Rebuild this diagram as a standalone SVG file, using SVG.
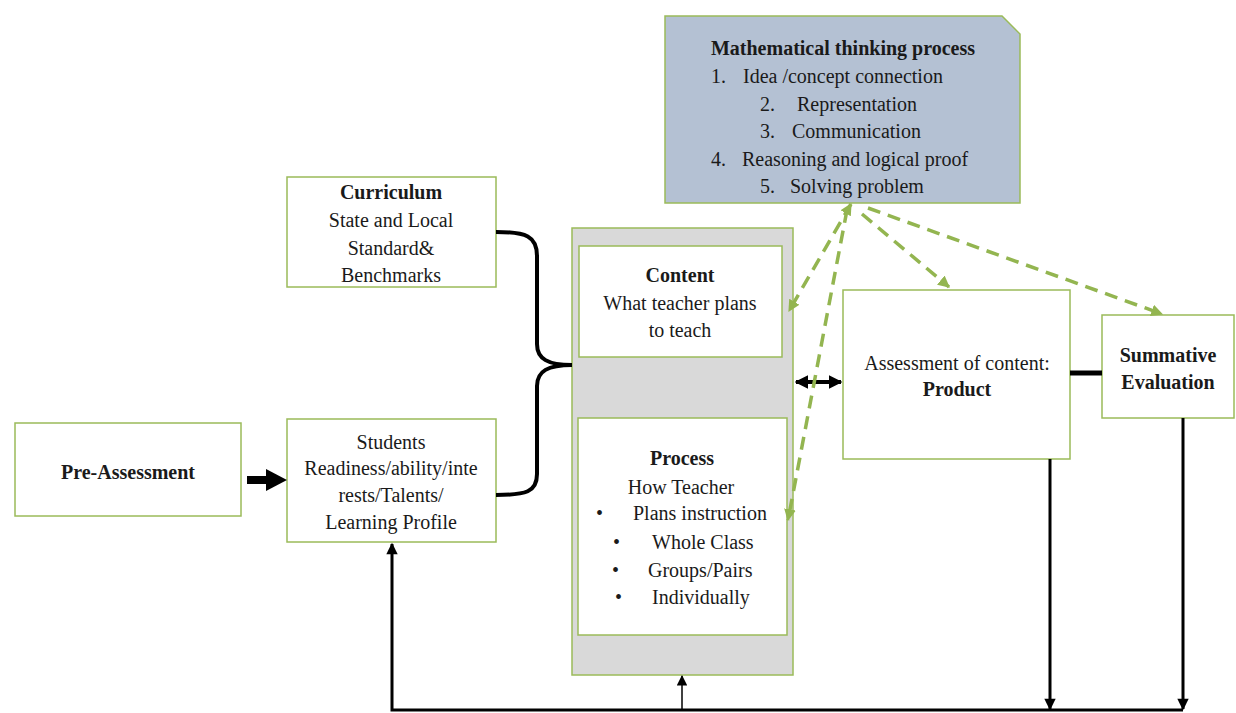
<svg xmlns="http://www.w3.org/2000/svg" width="1236" height="713" viewBox="0 0 1236 713">
<style>
  .box { fill: #ffffff; stroke: #9bbb59; stroke-width: 1.5; }
  text { font-family: "Liberation Serif", "Times New Roman", Times, serif; font-size: 20px; fill: #1a1a1a; }
  .c { text-anchor: middle; }
  .b { font-weight: bold; }
  .blk { stroke: #000; fill: none; }
  .dash { stroke: #93b550; stroke-width: 3.5; fill: none; stroke-dasharray: 13 8; }
</style>
<defs>
  <marker id="ga" viewBox="0 0 10 10" refX="9" refY="5" markerWidth="3.4" markerHeight="3.4" orient="auto-start-reverse">
    <path d="M0,0 L10,5 L0,10 z" fill="#93b550"/>
  </marker>
  <marker id="ka" viewBox="0 0 10 10" refX="9" refY="5" markerWidth="3.4" markerHeight="4" orient="auto-start-reverse">
    <path d="M0,0 L10,5 L0,10 z" fill="#000"/>
  </marker>
  <marker id="ks" viewBox="0 0 10 10" refX="9" refY="5" markerWidth="4.8" markerHeight="3.8" orient="auto-start-reverse">
    <path d="M0,0 L10,5 L0,10 z" fill="#000"/>
  </marker>
  <marker id="kd" viewBox="0 0 10 10" refX="9" refY="5" markerWidth="8" markerHeight="7" orient="auto-start-reverse">
    <path d="M0,0 L10,5 L0,10 z" fill="#000"/>
  </marker>
</defs>

<g id="math">
  <path d="M665,16 L1002,16 L1020,34 L1020,203 L665,203 z" fill="#b4c1d3" stroke="#9bbb59" stroke-width="1.5"/>
  <text class="c b" x="843" y="55">Mathematical thinking process</text>
  <text x="711" y="83">1.</text><text x="743" y="83">Idea /concept connection</text>
  <text x="760" y="111">2.</text><text x="797" y="111">Representation</text>
  <text x="760" y="138">3.</text><text x="792" y="138">Communication</text>
  <text x="711" y="166">4.</text><text x="742" y="166">Reasoning and logical proof</text>
  <text x="760" y="193">5.</text><text x="790" y="193">Solving problem</text>
</g>

<g id="curriculum">
  <rect class="box" x="287" y="177" width="209" height="110"/>
  <text class="c b" x="391" y="199">Curriculum</text>
  <text class="c" x="391" y="227">State and Local</text>
  <text class="c" x="391" y="255">Standard&amp;</text>
  <text class="c" x="391" y="282">Benchmarks</text>
</g>

<g id="students">
  <rect class="box" x="287" y="419" width="209" height="123"/>
  <text class="c" x="391" y="449">Students</text>
  <text class="c" x="391" y="475">Readiness/ability/inte</text>
  <text class="c" x="391" y="502">rests/Talents/</text>
  <text class="c" x="391" y="529">Learning Profile</text>
</g>

<g id="pre-assessment">
  <rect class="box" x="15" y="423" width="226" height="93"/>
  <text class="c b" x="128" y="479">Pre-Assessment</text>
</g>

<g id="container">
  <rect x="572" y="228" width="221" height="447" fill="#d9d9d9" stroke="#9bbb59" stroke-width="1.5"/>
</g>

<g id="content">
  <rect class="box" x="579" y="246" width="203" height="111"/>
  <text class="c b" x="680" y="282">Content</text>
  <text class="c" x="680" y="310">What teacher plans</text>
  <text class="c" x="680" y="337">to teach</text>
</g>

<g id="process">
  <rect class="box" x="578" y="418" width="209" height="217"/>
  <text class="c b" x="682" y="465">Process</text>
  <text class="c" x="681" y="494">How Teacher</text>
  <text x="596" y="520">•</text><text x="633" y="520">Plans instruction</text>
  <text x="613" y="549">•</text><text x="652" y="549">Whole Class</text>
  <text x="612" y="577">•</text><text x="648" y="577">Groups/Pairs</text>
  <text x="615" y="604">•</text><text x="652" y="604">Individually</text>
</g>

<g id="product">
  <rect class="box" x="843" y="290" width="227" height="169"/>
  <text class="c" x="957" y="370">Assessment of content:</text>
  <text class="c b" x="957" y="396">Product</text>
</g>

<g id="summative">
  <rect class="box" x="1102" y="315" width="132" height="103"/>
  <text class="c b" x="1168" y="362">Summative</text>
  <text class="c b" x="1168" y="389">Evaluation</text>
</g>

<g id="connectors">
  <path class="blk" stroke-width="4" d="M496,232 C526,232 537,236 537,256 L537,344 C537,359 548,365 572,365 C548,365 537,371 537,386 L537,474 C537,492 526,495 496,495"/>
  <line class="blk" x1="247" y1="480" x2="270" y2="480" stroke-width="8"/>
  <path d="M266,469 L287,480 L266,491 z" fill="#000"/>
  <line class="blk" x1="796" y1="382" x2="841" y2="382" stroke-width="4" marker-start="url(#ka)" marker-end="url(#ka)"/>
  <line class="blk" x1="1070" y1="373" x2="1102" y2="373" stroke-width="5"/>
  <polyline class="blk" stroke-width="3" points="1183,710 392,710 392,544" marker-end="url(#ks)"/>
  <line class="blk" x1="1050" y1="459" x2="1050" y2="709" stroke-width="3" marker-end="url(#ks)"/>
  <line class="blk" x1="1183" y1="418" x2="1183" y2="709" stroke-width="3" marker-end="url(#ks)"/>
  <line class="blk" x1="682" y1="710" x2="682" y2="676" stroke-width="1.5" marker-end="url(#kd)"/>
  <line class="dash" x1="851" y1="204" x2="789" y2="311" marker-start="url(#ga)" marker-end="url(#ga)"/>
  <line class="dash" x1="847" y1="210" x2="788" y2="520" marker-end="url(#ga)"/>
  <line class="dash" x1="862" y1="214" x2="949" y2="287" marker-end="url(#ga)"/>
  <line class="dash" x1="868" y1="208" x2="1162" y2="314" marker-end="url(#ga)"/>
</g>
</svg>
